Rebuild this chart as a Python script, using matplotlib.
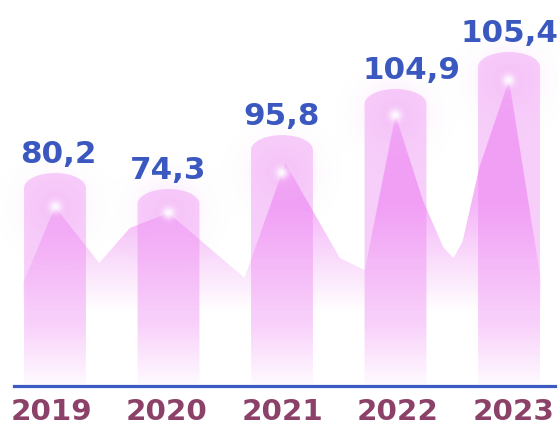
import numpy as np
import matplotlib.pyplot as plt
from matplotlib.patches import Polygon

years = ['2019', '2020', '2021', '2022', '2023']
labels = ['80,2', '74,3', '95,8', '104,9', '105,4']
values = [80.2, 74.3, 95.8, 104.9, 105.4]
# column heights as drawn in the picture (last two are drawn taller)
column_height = [80.4, 73.9, 95.9, 114.7, 129.8]
# soft background trend shape behind the columns
trend_x = [-0.28, 0.0, 0.39, 0.66, 1.0, 1.67, 2.03, 2.51, 2.73, 3.0,
           3.24, 3.42, 3.51, 3.59, 3.74, 4.0, 4.28]
trend_y = [41.6, 72.7, 49.8, 64.1, 70.2, 43.7, 90.6, 51.8, 46.9, 110.2,
           75.5, 56.3, 51.8, 58.4, 89.0, 124.5, 42.9]

W, H = 559, 421
x0, x1 = -0.4846, 4.4405
y0, y1 = -14.69, 157.14
px_x = W / (x1 - x0)
px_y = H / (y1 - y0)

fig = plt.figure(figsize=(W / 100, H / 100), dpi=100)
fig.patch.set_facecolor('white')
ax = fig.add_axes([0, 0, 1, 1])
ax.set_xlim(x0, x1)
ax.set_ylim(y0, y1)
ax.axis('off')

xs = np.linspace(x0, x1, W)
ys = np.linspace(y0, y1, H)
X, Y = np.meshgrid(xs, ys)


def layer(alpha, rgb, z, clip=None):
    img = np.zeros((H, W, 4))
    img[..., :3] = np.array(rgb) / 255
    img[..., 3] = np.clip(alpha, 0, 1)
    im = ax.imshow(img, extent=(x0, x1, y0, y1), origin='lower', aspect='auto',
                   zorder=z, interpolation='bilinear')
    if clip is not None:
        im.set_clip_path(clip)
    return im


pink = (236, 122, 242)

# trend area with vertical fade
verts = [(trend_x[0], 0)] + list(zip(trend_x, trend_y)) + [(trend_x[-1], 0)]
area = Polygon(verts, closed=True, fc='none', ec='none')
ax.add_patch(area)
layer(np.clip((Y - 30) * 0.0125, 0, 0.55), pink, 1, area)

# cylinders
w = 0.545
cap = 6.1
t = np.linspace(0, np.pi, 40)
for i, h in enumerate(column_height):
    pts = [(i - w / 2, 0), (i + w / 2, 0)]
    pts += list(zip(i + w / 2 * np.cos(t), h + cap * np.sin(t)))
    cyl = Polygon(pts, closed=True, fc='none', ec='none')
    ax.add_patch(cyl)
    layer(0.38 * np.clip((Y + 3) / 30, 0, 1), pink, 2, cyl)

# glow at each peak
peaks = np.interp(range(len(years)), trend_x, trend_y)
halo = np.zeros_like(X)
core = np.zeros_like(X)
for i, py in enumerate(peaks):
    r2 = ((X - i) * px_x) ** 2 + ((Y - py) * px_y) ** 2
    halo += 0.38 * np.exp(-r2 / 28 ** 2)
    core += 0.9 * np.exp(-r2 / 6 ** 2)
layer(halo, (244, 180, 246), 3)
layer(core, (255, 255, 255), 4)

# value labels
label_shift = [0.03, 0, 0, 0.14, 0]
for i, h in enumerate(column_height):
    ax.text(i + label_shift[i], h + cap + 4.1, labels[i], ha='center', va='baseline',
            fontsize=22.3, fontweight='bold', color='#3a58bf', family='DejaVu Sans', zorder=5)

# baseline
ax.axhline(-0.4, xmin=14 / W, xmax=555 / W, color='#3b5bc1', lw=2.3, zorder=5)

# year labels
for i, yr in enumerate(years):
    ax.text(-0.035 + i * 1.019, -14.2, yr, ha='center', va='baseline',
            fontsize=21.2, fontweight='bold', color='#8c4169', family='DejaVu Sans', zorder=5)

plt.savefig('out.png', dpi=100, facecolor='white')
